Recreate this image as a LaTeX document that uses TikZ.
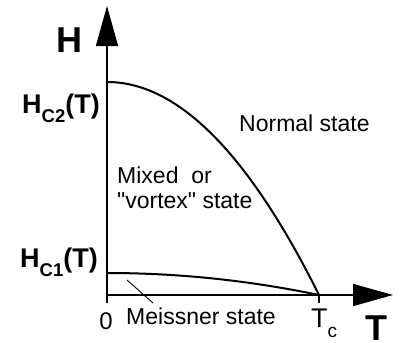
\documentclass[tikz,border=0pt]{standalone}
\usepackage{fontspec}
\setmainfont{Liberation Sans}
\newfontfamily\rawfont{Liberation Sans}
\usetikzlibrary{arrows.meta}
\begin{document}
\begin{tikzpicture}[x=1pt,y=-1pt,
  axis/.style={line width=1.5pt,-{Triangle[length=40pt,width=22pt]}},
  curve/.style={line width=2pt},
  pointer/.style={line width=0.9pt},
  lbl/.style={font=\fontsize{23}{27}\selectfont, inner sep=0pt, anchor=base west},
  blbl/.style={font=\fontsize{27}{30}\selectfont\bfseries, inner sep=0pt, anchor=base west},
  big/.style={font=\fontsize{36}{40}\selectfont\bfseries, inner sep=0pt, anchor=base west}]
\useasboundingbox (0,0) rectangle (400,343);
\coordinate (O) at (107,295);
\coordinate (Ybot) at (107,303);
\coordinate (Ytop) at (107,6);
\coordinate (Xend) at (393,295);
\coordinate (A2) at (107,82);
\coordinate (A1) at (107,273);
\coordinate (Tc) at (319,295);
\coordinate (Tick) at (319,303);
\coordinate (m1) at (127,280);
\coordinate (m2) at (153,303);
\draw[axis] (Ybot) -- (Ytop);
\draw[axis] (O) -- (Xend);
\draw[curve] (A2) .. controls (177.7,82) and (248.3,153) .. (Tc);
\draw[curve] (A1) .. controls (177.7,273) and (248.3,280.3) .. (Tc);
\draw[line width=1.2pt] (Tc) -- (Tick);
\draw[pointer] (m1) -- (m2);
\node[big] (lH) at (56,52) {H};
\node[big] (lT) at (365,340) {T};
\node[blbl] (lHc2) at (22,113) {H\raisebox{-9pt}{\fontsize{18.5}{18.5}\selectfont\bfseries C2}(T)};
\node[blbl] (lHc1) at (20,267) {H\raisebox{-9pt}{\fontsize{18.5}{18.5}\selectfont\bfseries C1}(T)};
\node[lbl] (lN) at (239,131) {Normal state};
\node[lbl] (lM1) at (117,183) {Mixed\ \ or};
\node[lbl] (lM2) at (117,208) {{\rawfont"}vortex{\rawfont"} state};
\node[lbl] (lMe) at (126,324) {Meissner state};
\node[font=\fontsize{24}{27}\selectfont, inner sep=0pt, anchor=base] (l0) at (106,329) {0};
\node[font=\fontsize{27}{30}\selectfont, inner sep=0pt, anchor=base west] (lTc) at (311,327) {T\raisebox{-10pt}{\fontsize{19}{19}\selectfont c}};
\end{tikzpicture}
\end{document}
